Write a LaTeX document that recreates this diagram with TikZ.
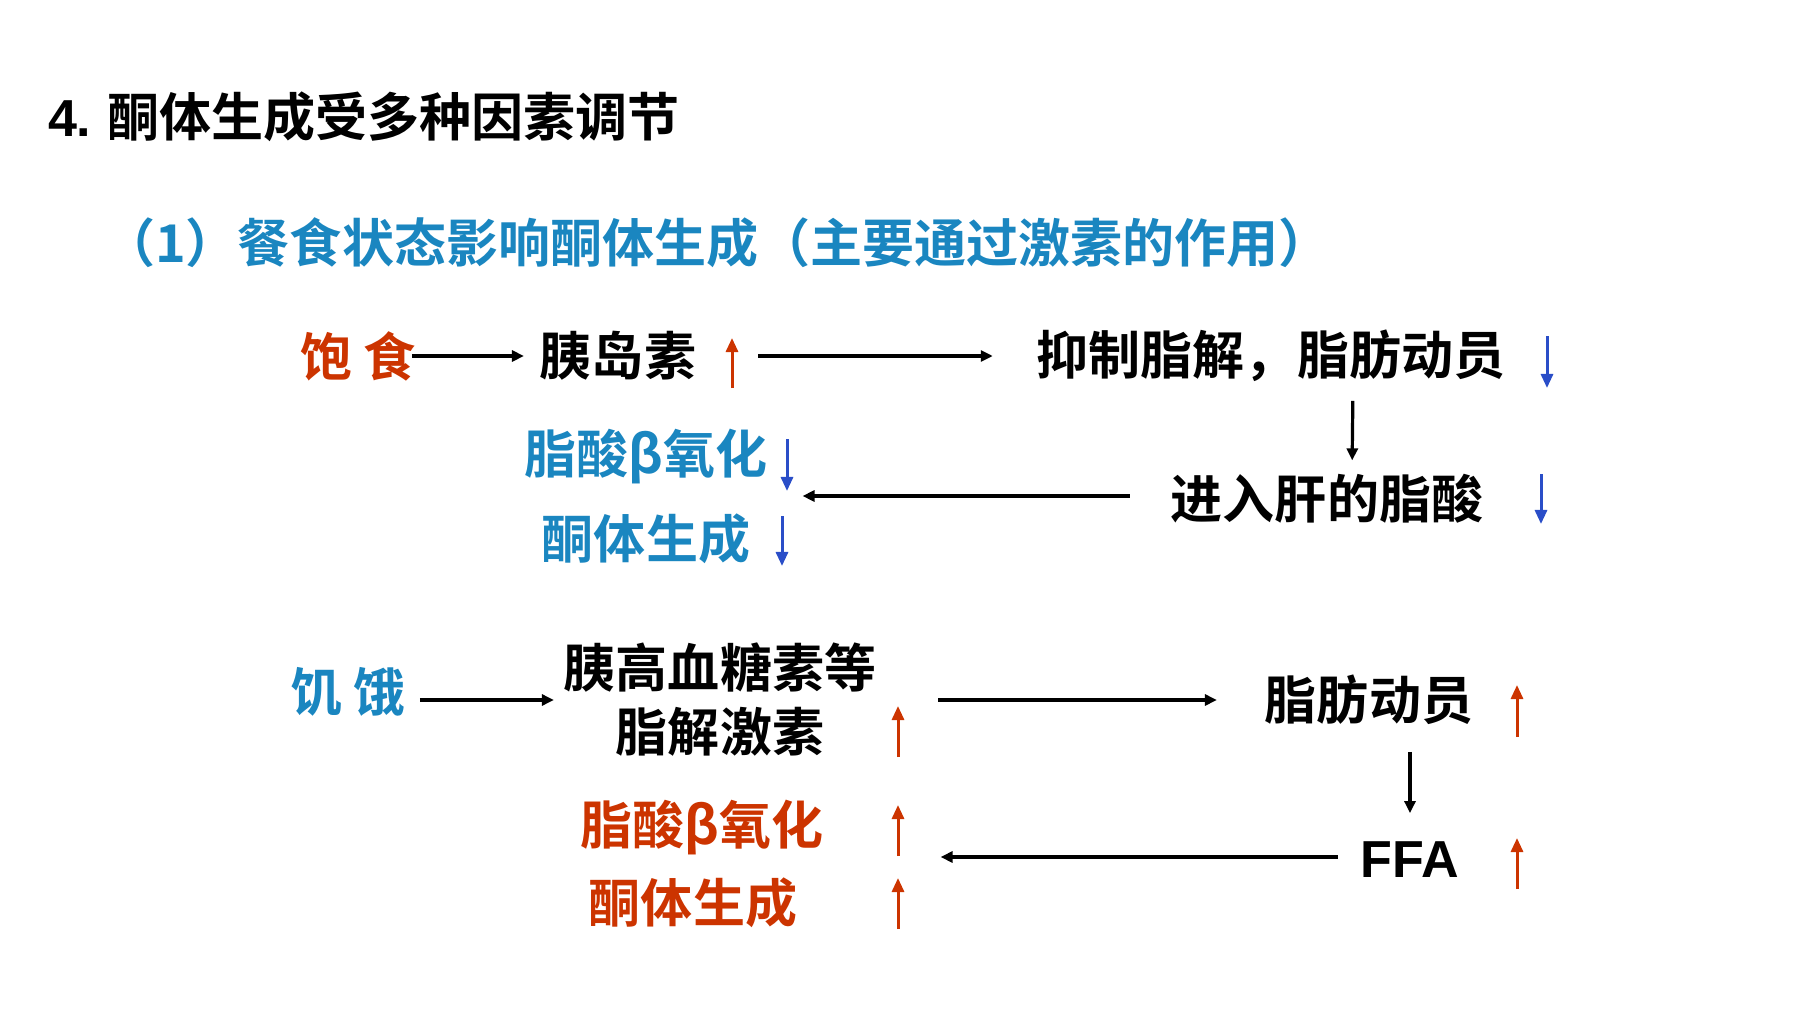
\documentclass[tikz,border=0pt]{standalone}
\usepackage{fontspec}
\setmainfont{Noto Sans CJK SC}[BoldFont={Noto Sans CJK SC Bold}]
\newfontfamily\latinfont{Liberation Sans}
\usepackage{tikz}
\usetikzlibrary{arrows.meta, calc}
\definecolor{fedred}{RGB}{204,52,0}
\definecolor{fastblue}{RGB}{26,134,192}
\definecolor{markblue}{RGB}{42,78,200}

\begin{document}
\begin{tikzpicture}[x=0.01cm, y=-0.01cm,
    txt/.style={inner sep=0pt, outer sep=0pt, font=\fontsize{14.8}{18.2}\selectfont\bfseries},
    arr/.style={line width=0.032cm, -{Triangle[length=0.12cm, width=0.11cm]}},
    rise/.style={fedred, line width=0.03cm, -{Triangle[length=0.14cm, width=0.12cm]}},
    fall/.style={markblue, line width=0.03cm, -{Triangle[length=0.14cm, width=0.12cm]}}]
    \useasboundingbox (0,0) rectangle (1799,1012);

    \node[txt, anchor=west] (title) at (48,117) {{\latinfont 4.} 酮体生成受多种因素调节};
    \node[txt, fastblue] (sub) at (717,243) {（1）餐食状态影响酮体生成（主要通过激素的作用）};

    % fed state
    \node[txt, fedred] (baoshi) at (358,356) {饱 食};
    \node[txt] (insulin) at (618,356) {胰岛素};
    \node[txt] (inhibit) at (1271,356) {抑制脂解，脂肪动员};
    \node[txt] (liverFA) at (1327,499) {进入肝的脂酸};
    \node[txt, fastblue] (betaOx1) at (646,457) {脂酸β氧化};
    \node[txt, fastblue] (keto1) at (646,539) {酮体生成};

    \draw[arr, shorten <=-0.04cm, shorten >=0.16cm] (baoshi) -- (insulin);
    \draw[arr, shorten <=0.62cm, shorten >=0.44cm] (insulin) -- (inhibit);
    \draw[arr, shorten <=0.19cm, shorten >=0.14cm] ([xshift=0.82cm]inhibit.south) -- ([xshift=0.25cm]liverFA.north);
    \draw[arr, shorten <=0.41cm, shorten >=0.35cm] ([yshift=0.03cm]liverFA.west) -- ([yshift=0.03cm]liverFA.west -| betaOx1.east);

    \draw[rise] (732,388) -- (732,338);
    \draw[fall] (1547,336) -- (1547,388);
    \draw[fall] (1541,474) -- (1541,524);
    \draw[fall] (787,439) -- (787,491);
    \draw[fall] (782,516) -- (782,566);

    % fasting state
    \node[txt, fastblue] (hunger) at (348,692) {饥 饿};
    \node[txt, align=center] (hormones) at (720,700) {胰高血糖素等\\脂解激素};
    \node[txt, font=\fontsize{14.8}{18.2}\selectfont\latinfont\bfseries] (ffa) at (1410,860) {FFA};
    \node[txt] (mobil) at (1369,700) {脂肪动员};
    \node[txt, fedred] (betaOx2) at (702,828) {脂酸β氧化};
    \node[txt, fedred] (keto2) at (693,903) {酮体生成};

    \draw[arr, shorten <=0.14cm, shorten >=0.10cm] (hunger.east |- hormones.west) -- (hormones.west);
    \draw[arr, shorten <=0.62cm, shorten >=0.48cm] (hormones.east) -- (mobil.west);
    \draw[arr, shorten <=0.27cm, shorten >=0.29cm] (ffa.north |- mobil.south) -- (ffa.north);
    \draw[arr, shorten <=0.23cm, shorten >=1.17cm] ([yshift=0.03cm]ffa.west) -- ([yshift=0.03cm]ffa.west -| betaOx2.east);

    \draw[rise] (898,757) -- (898,706);
    \draw[rise] (1517,737) -- (1517,685);
    \draw[rise] (1517,889) -- (1517,838);
    \draw[rise] (898,856) -- (898,805);
    \draw[rise] (898,929) -- (898,878);
\end{tikzpicture}
\end{document}
